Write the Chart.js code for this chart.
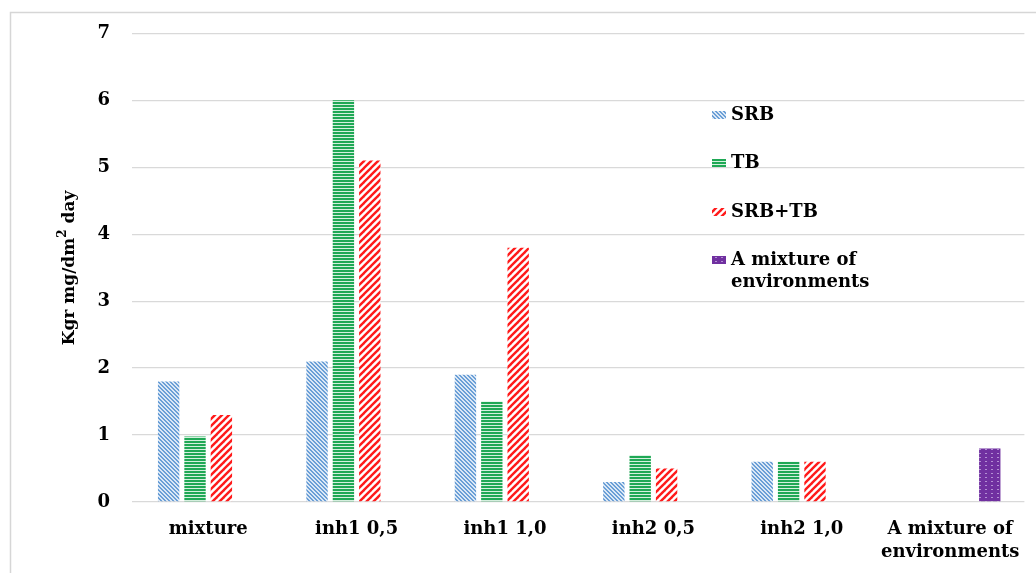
<!DOCTYPE html>
<html>
<head>
<meta charset="utf-8">
<script src="https://cdn.jsdelivr.net/npm/chart.js@4.4.1/dist/chart.umd.min.js"></script>
<style>
  html, body { margin: 0; padding: 0; background: #ffffff; }
  #wrap { width: 1036px; height: 573px; position: relative; }
</style>
</head>
<body>
<div id="wrap"><canvas id="c" width="1036" height="573"></canvas></div>
<script>
// ---- data ----
const categories = ['mixture', 'inh1 0,5', 'inh1 1,0', 'inh2 0,5', 'inh2 1,0', ['A mixture of', 'environments']];
const srbValues = [1.8, 2.1, 1.9, 0.3, 0.6, null];
const tbValues = [0.98, 6.0, 1.5, 0.7, 0.6, null];
const srbTbValues = [1.3, 5.1, 3.8, 0.5, 0.6, null];
const mixtureValues = [null, null, null, null, null, 0.8];
const seriesLabels = ['SRB', 'TB', 'SRB+TB', ['A mixture of', 'environments']];
const yTicks = [0, 1, 2, 3, 4, 5, 6, 7];
const yTitleParts = ['Kgr mg/dm', '2', ' day'];

// ---- patterns ----
function makePattern(w, h, draw) {
  const c = document.createElement('canvas');
  c.width = w; c.height = h;
  const g = c.getContext('2d');
  draw(g, w, h);
  return document.getElementById('c').getContext('2d').createPattern(c, 'repeat');
}
const srbPattern = makePattern(4, 4, (g, w, h) => {
  g.fillStyle = '#dbe8f6'; g.fillRect(0, 0, w, h);
  g.fillStyle = '#6b9fd6';
  for (let i = 0; i < 4; i++) { g.fillRect(i, i, 1, 1); g.fillRect((i + 1) % 4, i, 1, 1); }
});
const tbPattern = makePattern(4, 3, (g, w, h) => {
  g.fillStyle = '#d4f0de'; g.fillRect(0, 0, w, h);
  g.fillStyle = '#1fa855'; g.fillRect(0, 0, w, 2);
});
const redPattern = makePattern(7, 7, (g, w, h) => {
  g.fillStyle = '#ffffff'; g.fillRect(0, 0, w, h);
  g.strokeStyle = '#ff1a1a'; g.lineWidth = 2.4;
  for (const o of [-7, 0, 7]) {
    g.beginPath(); g.moveTo(o - 1, h + 1); g.lineTo(o + w + 1, -1); g.stroke();
  }
});
const purplePattern = makePattern(6, 4, (g, w, h) => {
  g.fillStyle = '#7030a0'; g.fillRect(0, 0, w, h);
  g.fillStyle = '#b38fd3'; g.fillRect(1, 1, 2, 1);
});

// ---- plugins ----
const framePlugin = {
  id: 'frame',
  beforeDraw(chart) {
    const ctx = chart.ctx;
    ctx.save();
    ctx.fillStyle = '#ffffff';
    ctx.fillRect(0, 0, chart.width, chart.height);
    ctx.strokeStyle = '#d6d6d6';
    ctx.lineWidth = 1.5;
    ctx.strokeRect(10.5, 12.5, 1100, 700);
    ctx.restore();
  }
};
const yTitlePlugin = {
  id: 'ytitle',
  afterDraw(chart) {
    const ctx = chart.ctx;
    ctx.save();
    ctx.translate(74, 268);
    ctx.rotate(-Math.PI / 2);
    ctx.fillStyle = '#000';
    ctx.textBaseline = 'alphabetic';
    const big = 'bold 17px "DejaVu Serif"', small = 'bold 12px "DejaVu Serif"';
    ctx.font = big; const w1 = ctx.measureText(yTitleParts[0]).width;
    ctx.font = small; const w2 = ctx.measureText(yTitleParts[1]).width;
    ctx.font = big; const w3 = ctx.measureText(yTitleParts[2]).width;
    let x = -(w1 + w2 + w3) / 2;
    ctx.font = big; ctx.fillText(yTitleParts[0], x, 0); x += w1;
    ctx.font = small; ctx.fillText(yTitleParts[1], x, -8); x += w2;
    ctx.font = big; ctx.fillText(yTitleParts[2], x, 0);
    ctx.restore();
  }
};
const legendPlugin = {
  id: 'customLegend',
  afterDraw(chart) {
    const ctx = chart.ctx;
    const ys = [115, 163, 212, 260];
    ctx.save();
    ctx.font = 'bold 18px "DejaVu Serif"';
    ctx.textBaseline = 'middle';
    ctx.fillStyle = '#000';
    chart.data.datasets.forEach((ds, i) => {
      const y = ys[i];
      ctx.fillStyle = ds.backgroundColor;
      ctx.fillRect(712, y - 4, 14, 8);
      ctx.fillStyle = '#000';
      const lines = Array.isArray(seriesLabels[i]) ? seriesLabels[i] : [seriesLabels[i]];
      lines.forEach((t, k) => ctx.fillText(t, 731, y + k * 22));
    });
    ctx.restore();
  }
};

const tickFont = { family: '"DejaVu Serif"', size: 18, weight: 'bold', lineHeight: 1.27 };

new Chart(document.getElementById('c'), {
  type: 'bar',
  data: {
    labels: categories,
    datasets: [
      { label: 'SRB', data: srbValues, backgroundColor: srbPattern },
      { label: 'TB', data: tbValues, backgroundColor: tbPattern },
      { label: 'SRB+TB', data: srbTbValues, backgroundColor: redPattern },
      { label: 'A mixture of environments', data: mixtureValues, backgroundColor: purplePattern }
    ]
  },
  options: {
    responsive: false,
    animation: false,
    devicePixelRatio: 1,
    layout: { padding: { left: 0, top: 32, right: 7, bottom: 0 } },
    datasets: { bar: { barPercentage: 0.81, categoryPercentage: 0.711, borderWidth: 0 } },
    plugins: { legend: { display: false }, tooltip: { enabled: false } },
    scales: {
      x: {
        grid: { display: false, drawTicks: false },
        border: { display: false },
        ticks: { font: tickFont, color: '#000', padding: 16, maxRotation: 0, autoSkip: false },
        afterFit(scale) { scale.height = 71; }
      },
      y: {
        min: 0, max: 7,
        afterBuildTicks(scale) { scale.ticks = yTicks.map(v => ({ value: v })); },
        grid: { color: '#d9d9d9', lineWidth: 1.3, tickLength: 2 },
        border: { display: false },
        ticks: { font: tickFont, color: '#000', padding: 22 },
        afterFit(scale) { scale.width = 134; }
      }
    }
  },
  plugins: [framePlugin, yTitlePlugin, legendPlugin]
});
</script>
</body>
</html>
